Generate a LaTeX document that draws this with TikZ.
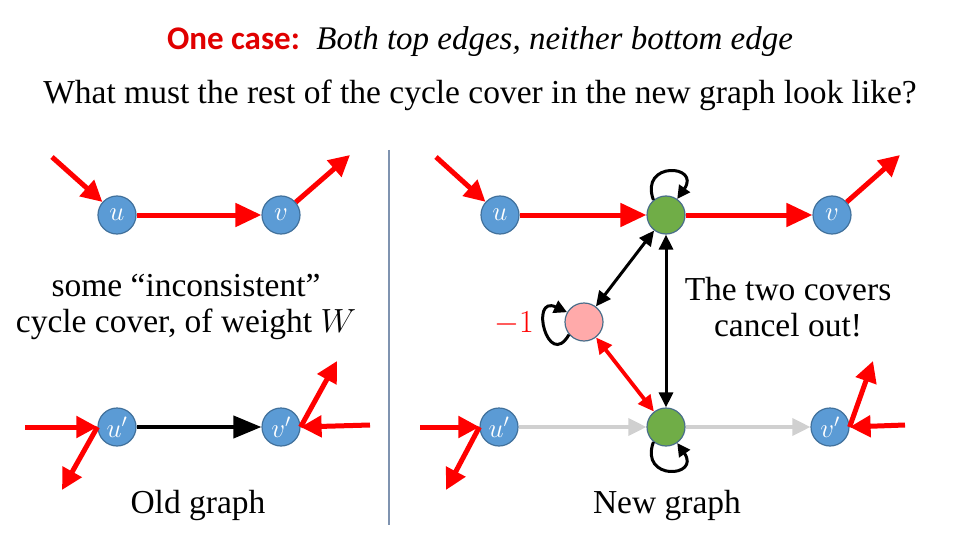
\RequirePackage{fix-cm}
\documentclass[tikz,border=0pt]{standalone}
\usepackage{fontspec}
\setmainfont{Liberation Serif}
\newfontfamily\calib{Carlito}
\usetikzlibrary{arrows.meta}
\definecolor{nblue}{HTML}{5B9BD5}
\definecolor{nborder}{HTML}{41719C}
\definecolor{ngborder}{HTML}{4A6E8A}
\definecolor{ngreen}{HTML}{70AD47}
\definecolor{npink}{HTML}{FFAAAA}
\definecolor{ered}{HTML}{FF0000}
\definecolor{egray}{HTML}{D0D0D0}
\definecolor{divc}{HTML}{7F93B0}
\definecolor{titlered}{HTML}{E00000}
\begin{document}
\begin{tikzpicture}[x=1pt,y=-1pt,
  vert/.style={circle, minimum size=38pt, inner sep=0pt, draw=nborder, line width=1.2pt, text=white, font=\fontsize{27}{27}\selectfont},
  bnode/.style={vert, fill=nblue},
  gnode/.style={vert, fill=ngreen, draw=ngborder},
  pnode/.style={vert, fill=npink, draw=ngborder},
  redarr/.style={draw=ered, line width=5pt, -{Triangle[length=26pt,width=23pt]}},
  redshort/.style={draw=ered, line width=5pt, -{Triangle[length=21pt,width=21pt]}},
  blackarr/.style={draw=black, line width=4pt, -{Triangle[length=28pt,width=22pt]}},
  grayarr/.style={draw=egray, line width=3.5pt, -{Triangle[length=18pt,width=17pt]}},
  dblack/.style={draw=black, line width=3pt, {Triangle[length=15pt,width=14pt]}-{Triangle[length=15pt,width=14pt]}},
  dred/.style={draw=ered, line width=3.8pt, {Triangle[length=16pt,width=15pt]}-{Triangle[length=16pt,width=15pt]}},
  loopst/.style={draw=black, line width=3pt, -{Triangle[length=13pt,width=13pt]}},
  txt/.style={font=\fontsize{33.5}{36}\selectfont, align=center}
]
\useasboundingbox (0,0) rectangle (960,540);

% titles
\node[font=\fontsize{33}{36}\selectfont] (title) at (480,42)
  {{\calib\bfseries\color{titlered}One case:}\ \ \textit{Both top edges, neither bottom edge}};
\node[txt] (q) at (480,95) {What must the rest of the cycle cover in the new graph look like?};

% divider
\coordinate (d1) at (389,150);
\coordinate (d2) at (389,525);
\draw[divc, line width=1.2pt] (d1) -- (d2);

% ---------- left panel ----------
\node[bnode] (u) at (117,215) {$u$};
\node[bnode] (v) at (281,215) {$v$};
\node[bnode] (up) at (117,427) {$u'$};
\node[bnode] (vp) at (281,427) {$v'$};

\coordinate (a1) at (52,157);
\coordinate (a2) at (350,155);
\coordinate (a3) at (25,427);
\coordinate (a4) at (62,490);
\coordinate (a5) at (337,361);
\coordinate (a6) at (370,425);

\draw[redshort] (a1) -- (u);
\draw[redarr] (u) -- (v);
\draw[redshort] (v) -- (a2);
\draw[blackarr] (up) -- (vp);
\draw[redshort] (a3) -- (up.west);
\draw[redshort] (up.west) -- (a4);
\draw[redshort] (vp.east) -- (a5);
\draw[redshort] (a6) -- (vp.east);

\node[txt] (lt) at (186,307) {some “inconsistent”\\cycle cover, of weight $W$};
\node[txt] (old) at (198,505) {Old graph};

% ---------- right panel ----------
\node[bnode] (U) at (500,215) {$u$};
\node[gnode] (G1) at (666,215) {};
\node[bnode] (V) at (832,215) {$v$};
\node[pnode] (P) at (584,322) {};
\node[bnode] (Up) at (499,427) {$u'$};
\node[gnode] (G2) at (666,427) {};
\node[bnode] (Vp) at (830,427) {$v'$};

\coordinate (b1) at (436,157);
\coordinate (b2) at (900,155);
\coordinate (b3) at (420,427);
\coordinate (b4) at (446,490);
\coordinate (b5) at (873,361);
\coordinate (b6) at (905,425);

\draw[redshort] (b1) -- (U);
\draw[redarr] (U) -- (G1);
\draw[redarr] (G1) -- (V);
\draw[redshort] (V) -- (b2);

\draw[grayarr] (Up) -- (G2);
\draw[grayarr] (G2) -- (Vp);
\draw[redshort] (b3) -- (Up.west);
\draw[redshort] (Up.west) -- (b4);
\draw[redshort] (Vp.east) -- (b5);
\draw[redshort] (b6) -- (Vp.east);

\draw[dblack] (G1) -- (P);
\draw[dblack] (G1) -- (G2);
\draw[dred] (P) -- (G2);

% loops
\draw[loopst] (G1.130) .. controls +(110:42pt) and +(55:42pt) .. (G1.55);
\draw[loopst] (G2.230) .. controls +(250:42pt) and +(305:42pt) .. (G2.305);
\draw[loopst] (P.220) .. controls +(240:42pt) and +(155:42pt) .. (P.150);

\node[font=\fontsize{32}{36}\selectfont, text=ered] (m1) at (514,324) {$-1$};

\node[txt] (rt) at (788,307) {The two covers\\cancel out!};
\node[txt] (new) at (667,505) {New graph};
\end{tikzpicture}
\end{document}
